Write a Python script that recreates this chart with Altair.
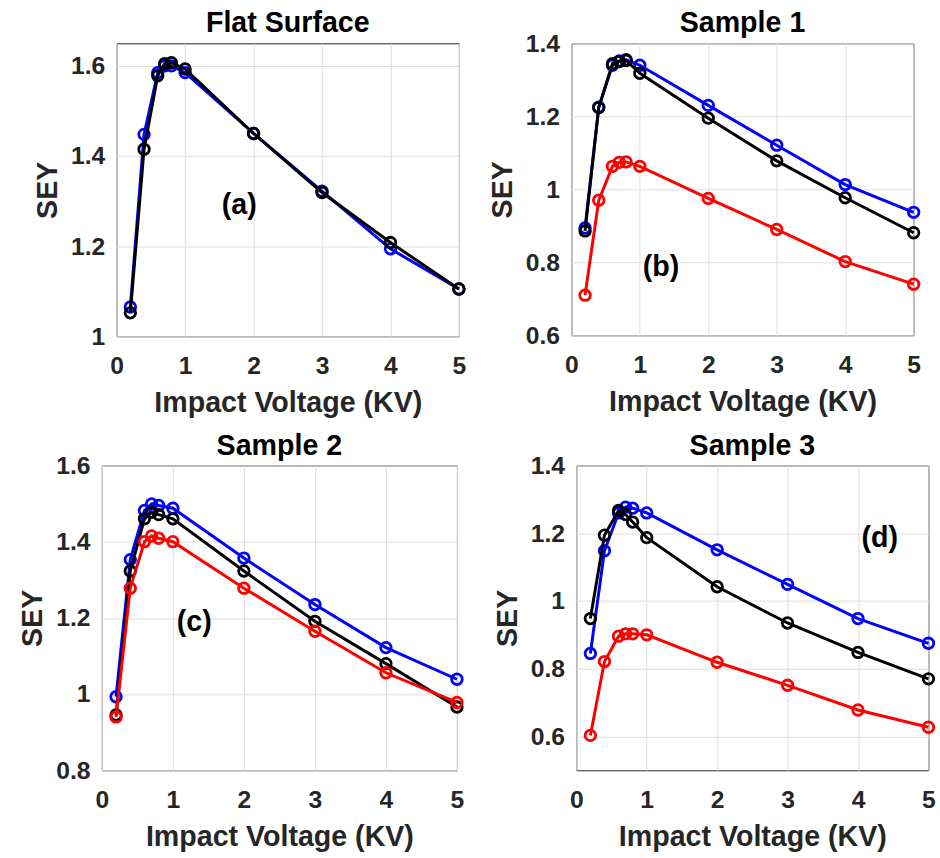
import altair as alt
import pandas as pd

volts = [0.2, 0.4, 0.6, 0.7, 0.8, 1, 2, 3, 4, 5]

flat_blue = [1.065, 1.448, 1.585, 1.600, 1.600, 1.585, 1.450, 1.322, 1.194, 1.105]
flat_black = [1.052, 1.415, 1.578, 1.605, 1.607, 1.593, 1.450, 1.319, 1.208, 1.105]

s1_blue = [0.894, 1.225, 1.340, 1.352, 1.355, 1.340, 1.230, 1.121, 1.013, 0.937]
s1_black = [0.886, 1.224, 1.344, 1.350, 1.353, 1.318, 1.195, 1.078, 0.977, 0.881]
s1_red = [0.710, 0.970, 1.063, 1.074, 1.075, 1.063, 0.975, 0.890, 0.802, 0.740]

s2_blue = [0.993, 1.353, 1.482, 1.499, 1.495, 1.488, 1.357, 1.235, 1.122, 1.039]
s2_black = [0.945, 1.323, 1.460, 1.477, 1.471, 1.460, 1.323, 1.191, 1.080, 0.966]
s2_red = [0.940, 1.278, 1.400, 1.415, 1.409, 1.400, 1.278, 1.165, 1.056, 0.978]

s3_blue = [0.845, 1.148, 1.260, 1.277, 1.274, 1.260, 1.151, 1.049, 0.948, 0.875]
s3_black = [0.948, 1.194, 1.267, 1.255, 1.233, 1.187, 1.042, 0.935, 0.848, 0.770]
s3_red = [0.603, 0.821, 0.896, 0.903, 0.903, 0.900, 0.819, 0.751, 0.678, 0.627]

titles = ["Flat Surface", "Sample 1", "Sample 2", "Sample 3"]
tags = ["(a)", "(b)", "(c)", "(d)"]
tag_x = [1.79, 1.31, 1.30, 4.31]
tag_y = [1.29, 0.787, 1.189, 1.187]
y_domains = [[1.0, 1.65], [0.6, 1.4], [0.8, 1.6], [0.5, 1.4]]
y_ticks = [[1.0, 1.2, 1.4, 1.6], [0.6, 0.8, 1.0, 1.2, 1.4], [0.8, 1.0, 1.2, 1.4, 1.6], [0.6, 0.8, 1.0, 1.2, 1.4]]
x_ticks = [0, 1, 2, 3, 4, 5]

BLUE, BLACK, RED = "#0000ff", "#000000", "#ff0000"
FONT = "Liberation Sans"


def panel(i, series, w, h, title_offset, min_extent):
    X = alt.X("x:Q", scale=alt.Scale(domain=[0, 5], nice=False),
              axis=alt.Axis(values=x_ticks, title="Impact Voltage (KV)", format="d"))
    Y = alt.Y("y:Q", scale=alt.Scale(domain=y_domains[i], nice=False, zero=False),
              axis=alt.Axis(values=y_ticks[i], title="SEY", format=".1~f",
                            titleX=-55, minExtent=min_extent))
    layers = []
    for vals, color in series:
        d = pd.DataFrame({"x": volts, "y": vals})
        base = alt.Chart(d)
        layers.append(base.mark_line(color=color, strokeWidth=3).encode(x=X, y=Y))
        layers.append(base.mark_point(shape="circle", filled=False, color=color,
                                      size=115, strokeWidth=2.8, opacity=1).encode(x=X, y=Y))
    td = pd.DataFrame({"x": [tag_x[i]], "y": [tag_y[i]], "t": [tags[i]]})
    layers.append(alt.Chart(td).mark_text(font=FONT, fontSize=29, fontWeight="bold",
                                          color="#000000").encode(x=X, y=Y, text="t:N"))
    return alt.layer(*layers).properties(
        width=w, height=h,
        title=alt.TitleParams(titles[i], frame="group", anchor="middle", offset=title_offset)
    )


pa = panel(0, [(flat_blue, BLUE), (flat_black, BLACK)], 347, 297, 5, 102)
pb = panel(1, [(s1_blue, BLUE), (s1_black, BLACK), (s1_red, RED)], 347, 296, -7, 0)
pc = panel(2, [(s2_blue, BLUE), (s2_black, BLACK), (s2_red, RED)], 360, 309, -7, 0)
pd_ = panel(3, [(s3_blue, BLUE), (s3_black, BLACK), (s3_red, RED)], 357, 309, -7, 0)

row1 = alt.hconcat(pa, pb, spacing=17)
row2 = alt.hconcat(pc, pd_, spacing=24)

chart = alt.vconcat(row1, row2, spacing=13, center=True).properties(
    padding={"left": 15, "top": 3, "right": 0, "bottom": 1}
).configure_view(
    stroke="#262626", strokeWidth=1
).configure_axis(
    labelFont=FONT, labelFontWeight="bold", labelFontSize=25, labelColor="#262626",
    titleFont=FONT, titleFontWeight="bold", titleFontSize=29, titleColor="#262626",
    grid=True, gridColor="#dedede", gridWidth=1, ticks=False, domain=False,
    labelFlush=False, labelOverlap=False
).configure_axisX(
    labelPadding=18, titlePadding=10
).configure_axisY(
    labelPadding=12
).configure_title(
    font=FONT, fontWeight="bold", fontSize=29, color="#000000"
)

chart.save("out.html", embed_options={"renderer": "svg", "actions": False})
